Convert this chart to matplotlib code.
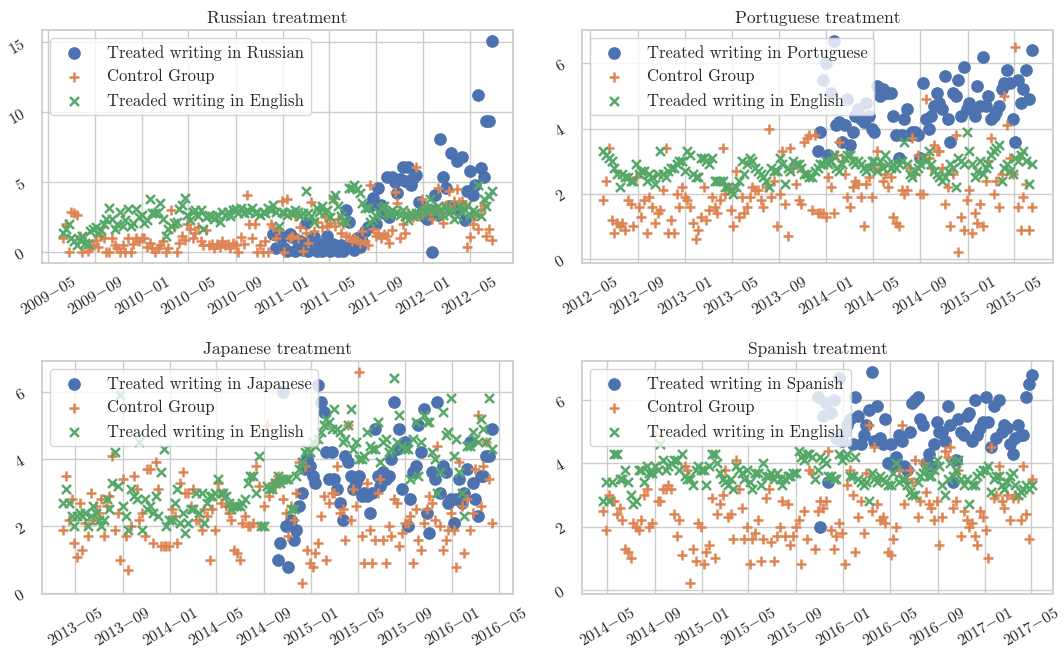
import matplotlib
matplotlib.use('Agg')
import matplotlib.pyplot as plt
import matplotlib.dates as mdates
from matplotlib.ticker import FuncFormatter, MultipleLocator
import seaborn as sns
import pandas as pd

sns.set_theme(style='whitegrid')
plt.rcParams['font.family'] = 'serif'
plt.rcParams['font.serif'] = ['cmr10', 'DejaVu Serif']
plt.rcParams['mathtext.fontset'] = 'cm'
plt.rcParams['axes.formatter.use_mathtext'] = True
plt.rcParams['axes.unicode_minus'] = False

# ---------- data (weekly averages) ----------
titles = ['Russian treatment', 'Portuguese treatment', 'Japanese treatment', 'Spanish treatment']
languages = ['Russian', 'Portuguese', 'Japanese', 'Spanish']
start_dates = ['2009-06-10', '2012-06-04', '2013-04-01', '2014-04-22']
treated_offset = [78, 79, 79, 79]   # week index where the treated series starts
y_step = [5, 2, 2, 2]

ru_treated = [1.3, 0.3,
              1.2, 1.1, 0.3, 0.1, 1.3, 1.1, 0.1, 0.4, 0.8, 0.2,
              2.1, 0.1, 0.9, 1.1, 0.1, 0.6, 0.1, 0.5, 1.2, 0.1,
              0.6, 0.3, 0.1, 0.5, 0.1, 3.0, 2.2, 0.5, 0.2, 1.0,
              0.4, 0.8, 1.5, 1.8, 3.3, 3.9, 2.0, 4.6, 3.4, 2.8,
              5.4, 2.5, 5.4, 5.0, 4.2, 5.2, 6.1, 5.1, 6.1, 4.8,
              5.3, 5.5, 3.6, 2.9, 2.6, 2.4, 3.0, 0.0, 4.1, 2.7,
              8.1, 5.4, 4.6, 3.3, 7.1, 3.2, 6.5, 3.1, 6.8, 2.3,
              4.4, 5.8, 4.1, 4.8, 11.2, 6.0, 5.4, 9.4, 9.4, 15.1]
ru_control = [1.0, 2.0, 0.0, 2.9, 2.8, 2.7, 1.2, 0.0, 0.8, 0.1,
              0.3, 0.5, 0.9, 0.4, 1.2, 1.0, 0.0, 0.0, 1.0, 0.5,
              0.3, 0.0, 0.5, 0.0, 1.0, 0.0, 0.6, 1.0, 0.8, 1.0,
              1.0, 0.4, 0.7, 0.3, 0.0, 0.3, 0.5, 0.8, 0.0, 0.3,
              3.0, 1.8, 0.0, 0.7, 1.2, 0.9, 2.0, 1.7, 1.0, 1.4,
              1.8, 0.8, 0.5, 1.6, 0.5, 0.6, 0.3, 0.6, 0.4, 0.8,
              0.5, 0.6, 0.3, 0.7, 0.5, 0.0, 1.1, 0.6, 4.1, 2.0,
              1.0, 2.0, 0.0, 0.5, 0.0, 0.8, 0.0, 2.0, 1.8, 1.0,
              1.6, 3.7, 0.0, 3.8, 1.0, 1.2, 2.6, 1.0, 1.8, 0.1,
              1.4, 0.7, 3.6, 1.5, 2.2, 3.2, 1.8, 2.5, 1.9, 2.1,
              3.9, 1.9, 2.4, 1.4, 2.0, 1.2, 1.1, 0.8, 1.0, 0.9,
              0.7, 1.5, 0.8, 0.5, 4.8, 1.7, 1.2, 1.4, 1.0, 1.3,
              1.2, 0.7, 1.6, 4.3, 3.5, 1.0, 2.0, 1.4, 2.8, 2.6,
              2.5, 6.1, 2.6, 3.8, 3.0, 3.3, 2.8, 2.4, 3.1, 4.6,
              2.9, 2.1, 3.4, 4.4, 3.0, 3.7, 4.5, 3.6, 3.7, 3.4,
              0.4, 1.1, 2.0, 2.6, 1.7, 3.0, 3.4, 1.2, 1.7, 0.9]
ru_english = [1.4, 1.7, 2.0, 1.0, 0.8, 0.5, 0.9, 1.2, 0.7, 0.6,
              1.5, 1.7, 1.8, 1.4, 1.6, 2.0, 2.4, 3.2, 2.4, 1.7,
              2.0, 2.9, 1.9, 2.3, 3.1, 1.9, 2.1, 3.1, 2.5, 2.7,
              2.1, 2.3, 3.8, 2.8, 2.8, 2.9, 3.5, 2.4, 1.2, 1.7,
              1.9, 2.1, 2.2, 3.1, 3.4, 3.9, 2.7, 2.3, 2.9, 3.0,
              2.6, 3.0, 1.7, 2.5, 2.7, 2.6, 2.4, 2.7, 2.2, 2.9,
              2.7, 2.9, 2.6, 3.0, 3.1, 2.8, 3.2, 2.8, 3.0, 2.9,
              3.2, 2.8, 2.9, 2.7, 2.9, 2.8, 3.2, 3.0, 3.4, 2.9,
              1.9, 2.9, 2.8, 2.7, 2.9, 2.8, 3.0, 2.9, 2.6, 2.8,
              4.4, 2.8, 2.6, 2.2, 3.2, 2.9, 3.3, 2.9, 3.0, 2.5,
              3.8, 4.1, 3.3, 2.6, 2.3, 2.2, 4.6, 4.6, 4.8, 4.5,
              4.2, 3.5, 3.2, 3.2, 2.2, 2.4, 2.6, 2.9, 3.2, 3.3,
              2.8, 2.7, 3.0, 2.8, 2.9, 2.7, 3.0, 2.6, 2.3, 2.8,
              2.6, 2.8, 2.7, 2.9, 3.0, 3.2, 3.8, 3.2, 2.8, 3.3,
              3.0, 2.7, 3.3, 2.8, 3.0, 2.4, 2.6, 3.3, 2.9, 3.0,
              3.4, 2.7, 3.0, 2.8, 4.8, 2.6, 3.8, 3.3, 4.0, 4.4]

pt_treated = [3.3, 3.9, 5.5, 6.0, 3.2, 5.1, 6.7, 4.1, 4.2, 3.6, 4.1,
              4.9, 3.5, 3.9, 4.4, 4.6, 4.3, 4.2, 4.8, 4.4, 4.0,
              3.9, 5.3, 5.0, 5.2, 5.1, 5.1, 5.1, 4.4, 3.8, 3.1,
              3.8, 4.3, 4.6, 3.8, 3.9, 3.9, 3.8, 3.1, 5.4, 4.3,
              4.0, 4.4, 4.7, 5.1, 4.8, 4.6, 5.6, 4.3, 3.6, 5.1,
              5.0, 5.5, 4.4, 5.9, 4.6, 4.8, 4.6, 4.4, 5.3, 4.7,
              6.2, 4.7, 5.0, 4.3, 4.4, 4.5, 4.7, 5.2, 5.4, 5.8,
              5.4, 4.3, 3.6, 5.5, 4.8, 5.2, 5.8, 4.9, 6.4]
pt_control = [1.8, 2.4, 3.4, 1.2, 0.8, 1.1, 1.0, 1.1, 0.9, 1.8,
              1.7, 1.0, 2.5, 1.6, 1.3, 1.8, 0.8, 1.9, 1.6, 1.1,
              1.4, 1.5, 2.1, 3.4, 0.8, 1.2, 0.8, 2.0, 1.6, 2.2,
              1.9, 1.8, 1.6, 1.1, 0.6, 0.9, 1.3, 2.2, 1.2, 1.5,
              1.9, 1.6, 1.4, 1.8, 3.4, 2.0, 2.2, 1.5, 1.0, 2.7,
              1.3, 1.9, 1.4, 1.6, 1.9, 2.2, 2.1, 2.1, 1.8, 1.6,
              2.2, 4.0, 1.9, 2.4, 1.0, 2.0, 3.3, 1.7, 0.7, 3.4,
              2.8, 2.3, 1.8, 1.7, 3.6, 3.7, 3.8, 1.5, 3.8, 1.4,
              1.4, 1.4, 1.3, 2.5, 2.2, 1.4, 3.2, 3.6, 3.0, 2.6,
              1.9, 1.6, 2.2, 2.4, 2.3, 1.9, 1.0, 2.3, 2.5, 1.9,
              2.8, 3.3, 2.9, 2.4, 2.6, 2.2, 2.5, 1.3, 1.1, 1.0,
              2.1, 2.0, 2.1, 2.8, 3.7, 2.6, 3.2, 2.0, 2.0, 4.9,
              3.1, 2.8, 3.5, 3.3, 3.3, 2.8, 1.7, 2.2, 1.0, 2.6,
              3.8, 0.2, 1.3, 0.9, 1.8, 2.1, 0.8, 1.4, 1.1, 1.7,
              1.0, 2.4, 3.0, 3.7, 2.0, 2.4, 1.6, 2.6, 5.0, 4.1,
              3.1, 2.6, 6.5, 1.6, 0.9, 1.9, 2.3, 0.9, 1.6]
pt_english = [3.3, 3.2, 3.1, 3.0, 2.8, 2.6, 2.2, 2.6, 2.5, 2.5,
              2.4, 2.4, 2.9, 2.6, 2.7, 2.7, 2.4, 2.6, 2.5, 2.3,
              2.6, 3.3, 2.6, 2.5, 2.7, 2.8, 2.8, 2.9, 3.0, 3.0,
              2.7, 3.3, 3.2, 2.6, 2.5, 2.5, 3.1, 3.1, 3.0, 2.9,
              3.1, 2.4, 2.4, 2.4, 2.4, 2.2, 2.2, 2.1, 2.0, 2.2,
              2.4, 3.0, 2.6, 2.9, 3.1, 3.0, 2.8, 2.7, 2.6, 2.5,
              2.4, 2.2, 2.8, 2.7, 2.7, 3.1, 2.9, 2.3, 2.8, 2.7,
              3.0, 2.9, 2.9, 2.8, 2.6, 2.6, 2.5, 2.5, 2.7, 2.8,
              2.9, 2.9, 3.0, 2.9, 3.0, 3.2, 2.8, 2.7, 2.9, 3.1,
              3.2, 3.2, 3.0, 2.9, 3.0, 2.9, 2.8, 2.7, 2.8, 3.0,
              3.0, 2.7, 3.0, 2.8, 3.2, 2.9, 2.8, 2.9, 2.8, 2.9,
              3.0, 3.6, 2.9, 2.6, 2.5, 2.7, 2.8, 2.9, 3.1, 3.0,
              3.3, 2.9, 2.7, 2.6, 2.5, 2.4, 2.5, 2.7, 2.9, 2.8,
              2.2, 3.1, 3.0, 2.9, 3.9, 3.3, 2.9, 2.5, 2.7, 3.0,
              2.6, 2.8, 2.9, 3.2, 3.3, 3.4, 3.5, 2.4, 2.8, 2.9,
              2.7, 2.6, 3.1, 3.0, 3.2, 3.3, 3.0, 2.3, 2.9]

ja_treated = [1.0, 1.5, 6.0, 2.0, 0.8, 2.2, 1.6, 1.9, 2.6, 3.0, 3.7,
              4.0, 3.8, 3.5, 3.3, 6.2, 5.7, 5.4, 4.2, 3.4, 4.2,
              3.4, 3.1, 2.7, 2.2, 4.1, 3.9, 3.5, 3.1, 3.3, 3.5,
              2.9, 3.0, 2.9, 2.4, 3.0, 4.9, 3.5, 3.2, 3.6, 3.4,
              3.5, 4.0, 5.7, 4.3, 4.9, 3.1, 4.5, 2.0, 2.8, 3.6,
              3.8, 5.0, 4.2, 5.5, 2.4, 1.8, 3.6, 3.4, 5.7, 3.0,
              3.8, 3.6, 2.7, 2.8, 2.1, 2.8, 3.4, 2.7, 3.0, 3.7,
              4.5, 3.3, 2.8, 2.3, 3.5, 3.5, 4.1, 4.1, 4.9]
ja_control = [1.9, 3.5, 2.2, 2.8, 1.5, 1.1, 2.7, 1.3, 2.1, 1.7,
              3.0, 2.2, 2.6, 2.4, 2.8, 1.7, 2.6, 2.9, 4.1, 1.9,
              2.4, 1.0, 3.4, 1.7, 0.7, 2.0, 3.5, 3.1, 2.2, 2.4,
              1.7, 3.7, 3.7, 1.5, 3.9, 3.1, 1.4, 1.4, 1.4, 1.4,
              2.5, 2.3, 1.5, 3.3, 3.6, 3.0, 3.0, 2.6, 3.1, 2.2,
              2.2, 1.9, 2.5, 2.3, 1.0, 2.5, 1.9, 3.3, 2.7, 3.0,
              2.6, 2.4, 2.2, 1.3, 1.2, 1.0, 2.1, 2.3, 2.0, 2.0,
              2.1, 3.8, 3.2, 2.0, 2.6, 5.0, 2.9, 3.3, 3.2, 3.5,
              3.3, 2.8, 2.4, 1.7, 2.6, 2.2, 3.0, 3.9, 0.3, 3.8,
              1.3, 0.9, 0.8, 1.2, 1.5, 2.3, 2.9, 1.0, 2.7, 3.0,
              3.0, 3.8, 2.4, 2.5, 1.6, 5.0, 2.2, 3.1, 2.6, 6.6,
              1.7, 0.9, 3.3, 1.9, 0.9, 1.6, 3.0, 3.4, 1.6, 0.9,
              2.0, 1.7, 2.8, 2.7, 1.4, 1.8, 2.1, 2.1, 2.3, 0.9,
              2.5, 1.6, 1.3, 2.1, 2.5, 2.9, 2.7, 2.2, 4.4, 2.0,
              1.3, 1.6, 1.9, 2.4, 1.9, 0.8, 3.9, 2.6, 1.2, 2.8,
              1.9, 2.4, 3.7, 5.3, 2.6, 3.8, 4.5, 3.4, 2.1]
ja_english = [2.7, 3.1, 2.7, 2.3, 2.0, 2.3, 2.4, 2.3, 2.4, 2.0,
              2.3, 2.6, 2.4, 2.2, 2.0, 2.2, 2.8, 2.5, 3.3, 4.2,
              3.2, 5.9, 2.6, 2.3, 1.9, 3.1, 2.9, 2.8, 4.5, 1.9,
              2.8, 2.5, 2.6, 2.4, 2.9, 2.3, 3.6, 4.3, 2.0, 2.2,
              2.2, 2.7, 3.1, 2.1, 2.4, 1.8, 2.1, 2.5, 2.5, 3.0,
              2.4, 3.0, 2.1, 2.7, 2.9, 2.9, 3.0, 3.4, 3.0, 3.0,
              2.9, 2.7, 2.5, 2.6, 2.6, 2.6, 2.7, 2.8, 3.3, 3.5,
              3.5, 3.0, 4.1, 2.0, 2.0, 3.2, 3.1, 3.1, 3.3, 3.5,
              3.3, 3.4, 3.4, 3.4, 2.5, 2.5, 3.5, 3.7, 3.9, 4.2,
              4.3, 4.2, 4.5, 4.4, 4.6, 4.8, 5.0, 5.2, 5.1, 4.9,
              5.5, 4.9, 4.8, 4.5, 4.6, 5.0, 5.5, 4.3, 4.5, 4.0,
              4.0, 4.1, 4.8, 4.4, 4.3, 4.3, 5.1, 3.9, 4.5, 4.6,
              4.2, 4.3, 6.4, 4.5, 5.3, 4.4, 4.3, 4.3, 3.4, 4.6,
              5.1, 3.5, 4.5, 5.3, 5.1, 5.1, 4.2, 4.0, 3.0, 3.6,
              5.4, 4.7, 4.8, 5.8, 4.1, 4.6, 3.6, 3.0, 2.3, 4.4,
              4.4, 4.8, 4.6, 4.5, 5.2, 4.9, 4.5, 5.8, 4.3]

es_treated = [6.1, 2.0, 5.5, 5.9, 3.4, 5.6, 6.0, 4.8, 6.7, 4.7, 5.0,
              5.2, 5.4, 4.6, 6.1, 5.5, 4.6, 4.9, 5.2, 5.7, 6.9,
              4.7, 5.8, 4.8, 4.6, 5.4, 4.0, 4.6, 3.9, 4.2, 4.9,
              4.7, 3.9, 3.8, 5.0, 5.9, 6.0, 6.1, 5.4, 5.2, 4.0,
              4.3, 3.9, 4.6, 5.3, 5.0, 5.0, 4.7, 5.8, 5.2, 3.4,
              4.1, 5.4, 5.0, 4.9, 5.5, 5.6, 4.7, 6.0, 4.9, 5.1,
              5.3, 6.1, 5.3, 4.5, 5.8, 4.8, 6.0, 5.0, 5.2, 5.1,
              4.6, 4.3, 4.8, 5.2, 4.9, 4.9, 6.1, 6.5, 6.8]
es_control = [2.5, 1.9, 3.0, 2.8, 2.8, 2.4, 2.6, 2.2, 1.3, 1.2,
              1.0, 2.1, 2.0, 1.9, 2.2, 3.0, 3.2, 2.0, 2.1, 4.9,
              2.8, 2.8, 3.2, 3.2, 3.3, 3.2, 2.4, 1.7, 2.2, 1.1,
              3.9, 3.8, 0.2, 1.3, 0.9, 2.1, 2.0, 0.8, 1.2, 1.4,
              2.9, 1.0, 2.4, 2.7, 3.0, 3.8, 2.3, 2.4, 1.6, 4.1,
              3.2, 2.6, 1.6, 2.0, 0.8, 1.6, 1.8, 2.2, 0.9, 1.6,
              2.9, 3.2, 1.5, 0.9, 1.7, 2.0, 2.8, 1.7, 2.7, 1.4,
              1.7, 2.0, 2.2, 0.8, 2.5, 1.6, 3.8, 3.7, 1.3, 2.5,
              2.8, 2.6, 2.8, 4.4, 1.9, 1.3, 1.7, 2.1, 1.8, 0.8,
              3.3, 3.8, 3.0, 1.2, 2.3, 2.8, 1.8, 3.7, 5.2, 2.5,
              4.5, 2.7, 2.2, 2.3, 2.1, 1.2, 1.1, 1.6, 2.0, 3.8,
              5.2, 2.7, 3.5, 3.8, 3.4, 4.1, 2.3, 2.8, 4.0, 3.1,
              2.7, 2.6, 2.2, 2.8, 1.4, 2.3, 4.4, 4.2, 4.5, 2.6,
              2.8, 3.8, 1.7, 2.5, 2.2, 2.0, 2.1, 1.7, 1.4, 2.5,
              2.3, 1.9, 1.0, 4.5, 2.9, 3.0, 3.9, 2.8, 2.6, 3.0,
              2.2, 2.9, 3.0, 2.9, 2.2, 3.9, 2.4, 1.6, 3.5]
es_english = [2.8, 3.4, 2.8, 3.4, 4.3, 4.3, 3.5, 3.5, 3.8, 3.4,
              3.0, 2.7, 2.8, 3.8, 3.8, 3.4, 3.9, 3.7, 3.7, 3.9,
              3.8, 4.6, 4.1, 3.8, 3.9, 4.0, 4.1, 4.1, 3.8, 4.3,
              3.6, 3.5, 3.5, 3.3, 3.8, 3.9, 3.8, 3.8, 3.3, 3.9,
              4.3, 4.3, 4.0, 3.7, 3.5, 3.4, 3.3, 3.5, 3.2, 3.9,
              3.8, 3.7, 3.5, 3.8, 3.4, 3.2, 3.7, 3.7, 3.3, 4.0,
              3.6, 3.6, 3.7, 3.5, 3.7, 3.5, 3.3, 3.5, 3.6, 3.6,
              3.7, 3.7, 4.4, 4.2, 4.1, 4.3, 4.3, 4.2, 3.5, 3.8,
              4.2, 4.1, 4.0, 3.6, 3.6, 3.5, 3.5, 4.3, 4.1, 4.2,
              4.3, 3.6, 3.6, 4.2, 3.5, 3.4, 3.3, 3.4, 2.8, 3.7,
              3.5, 3.4, 3.6, 3.5, 3.4, 3.3, 3.3, 3.7, 4.0, 3.4,
              3.5, 3.5, 3.3, 3.1, 3.0, 3.0, 3.4, 3.6, 3.7, 3.9,
              3.6, 3.6, 3.8, 4.1, 3.9, 3.3, 3.0, 3.5, 4.0, 3.6,
              3.8, 4.1, 3.5, 3.3, 3.5, 2.7, 3.3, 3.3, 3.6, 3.7,
              3.8, 3.8, 3.9, 3.1, 3.5, 3.6, 3.6, 3.3, 3.2, 3.4,
              3.6, 3.7, 3.3, 3.0, 3.1, 3.2, 3.3, 3.2, 3.3]

treated_all = [ru_treated, pt_treated, ja_treated, es_treated]
control_all = [ru_control, pt_control, ja_control, es_control]
english_all = [ru_english, pt_english, ja_english, es_english]

c_blue, c_orange, c_green = sns.color_palette('deep')[:3]

fig, axes = plt.subplots(2, 2, figsize=(10.64, 6.53), dpi=100)
fig.subplots_adjust(left=42/1064, right=1053/1064, top=1-30/653, bottom=1-594/653,
                    wspace=69/471, hspace=98/233)

date_fmt = FuncFormatter(lambda v, pos: mdates.num2date(v).strftime('$%Y{-}%m$'))
int_fmt = FuncFormatter(lambda v, pos: '$%d$' % round(v))

for k, ax in enumerate(axes.flat):
    n = len(control_all[k])
    weeks = pd.date_range(start_dates[k], periods=n, freq='7D')
    tweeks = weeks[treated_offset[k]:treated_offset[k] + len(treated_all[k])]

    ax.scatter(tweeks, treated_all[k], s=66, marker='o', color=c_blue,
               label='Treated writing in ' + languages[k])
    ax.scatter(weeks, control_all[k], s=50, marker='+', color=c_orange,
               linewidths=1.8, label='Control Group')
    ax.scatter(weeks, english_all[k], s=42, marker='x', color=c_green,
               linewidths=1.8, label='Treaded writing in English')

    ax.set_title(titles[k], fontsize=12.5, color='.15', pad=5)
    ax.xaxis.set_major_locator(mdates.MonthLocator(bymonth=[1, 5, 9]))
    ax.xaxis.set_major_formatter(date_fmt)
    ax.yaxis.set_major_locator(MultipleLocator(y_step[k]))
    ax.yaxis.set_major_formatter(int_fmt)
    ax.tick_params(axis='x', labelsize=11.5, rotation=30, pad=2)
    ax.tick_params(axis='y', labelsize=11.5, rotation=30, pad=4)
    ax.legend(loc='upper left', fontsize=12, borderaxespad=0.5, handletextpad=1.0)

plt.savefig('out.png', dpi=100)
